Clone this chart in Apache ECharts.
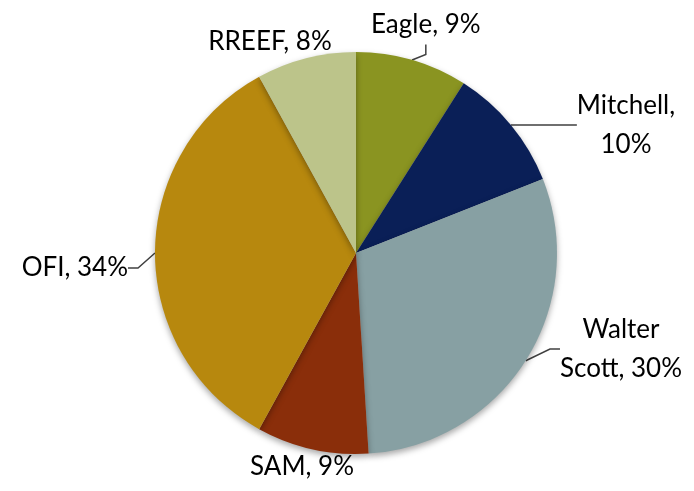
<!DOCTYPE html>
<html lang="en">
<head>
    <meta charset="UTF-8">
    <title>pie</title>
    <script type="text/javascript" src="https://cdn.jsdelivr.net/npm/echarts@6/dist/echarts.min.js"></script>
    <style>
        html, body { margin: 0; padding: 0; background: #fff; }
    </style>
</head>
<body>
<div id="main" style="width: 694px;height: 491px;"></div>

<script type="text/javascript">

    var names = ['Eagle', 'Mitchell', 'Walter Scott', 'SAM', 'OFI', 'RREEF'];
    var shares = [9, 10, 30, 9, 34, 8];
    var colors = ['#8a9421', '#0a1f57', '#87a0a3', '#8a2e0a', '#b7880e', '#bcc48a'];
    // label text as shown in the picture (some wrap onto two lines)
    var labelText = ['Eagle, 9%', 'Mitchell,\n10%', 'Walter\nScott, 30%', 'SAM, 9%', 'OFI, 34%', 'RREEF, 8%'];
    var showLine = [true, true, true, false, true, false];

    // where each label sits: [x, y, align]
    var labelPos = [
        [371, 25, 'left'],
        [626, 125, 'center'],
        [621, 349, 'center'],
        [302, 467, 'center'],
        [128, 268, 'right'],
        [270, 42, 'center']
    ];

    var chart = echarts.init(document.getElementById('main'));

    var data = [];
    for (var i = 0; i < names.length; i++) {
        data.push({
            name: names[i],
            value: shares[i],
            itemStyle: { color: colors[i] },
            label: { formatter: labelText[i] },
            labelLine: { show: showLine[i] }
        });
    }

    var option = {
        animation: false,
        series: [
            {
                type: 'pie',
                center: [356, 253],
                radius: 201,
                startAngle: 90,
                clockwise: true,
                data: data,
                itemStyle: {
                    borderWidth: 0,
                    shadowBlur: 6,
                    shadowOffsetY: 3,
                    shadowColor: 'rgba(0,0,0,0.35)'
                },
                label: {
                    show: true,
                    color: '#000',
                    fontFamily: 'Lato',
                    fontSize: 26,
                    lineHeight: 39
                },
                labelLine: {
                    show: true,
                    length: 12,
                    length2: 10,
                    lineStyle: { color: '#404040', width: 1.5 }
                },
                labelLayout: function (params) {
                    var p = labelPos[params.dataIndex];
                    return {
                        x: p[0],
                        y: p[1],
                        align: p[2],
                        verticalAlign: 'middle'
                    };
                }
            }
        ]
    };
    chart.setOption(option);
</script>
</body>
</html>
